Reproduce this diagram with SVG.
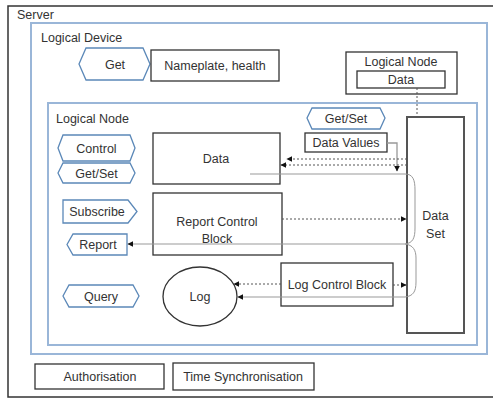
<svg xmlns="http://www.w3.org/2000/svg" width="493" height="400" viewBox="0 0 493 400">
  <style>
    text { font-family: "Liberation Sans", Arial, sans-serif; font-size: 12.5px; fill: #333; }
    .c { text-anchor: middle; }
    .box { fill: #fff; stroke: #333; stroke-width: 1.3; }
    .frame { fill: none; stroke: #9ab6d8; stroke-width: 2; }
    .svc { fill: #fff; stroke: #5b88b8; stroke-width: 1.3; }
    .dash { fill: none; stroke: #555; stroke-width: 1; stroke-dasharray: 2 2; }
    .thin { fill: none; stroke: #999; stroke-width: 1; }
  </style>
  <defs>
    <marker id="ah" viewBox="0 0 10 10" refX="9" refY="5" markerWidth="6" markerHeight="6" orient="auto" markerUnits="userSpaceOnUse">
      <path d="M0,0 L10,5 L0,10 Z" fill="#111"/>
    </marker>
  </defs>

  <rect width="493" height="400" fill="#fff"/>

  <!-- Server container -->
  <g id="server">
    <rect x="8" y="6" width="500" height="391" fill="none" stroke="#333" stroke-width="1.5"/>
    <text x="17" y="19">Server</text>
  </g>

  <!-- Logical Device container -->
  <g id="logical-device">
    <rect class="frame" x="31" y="23" width="456" height="331"/>
    <text x="41" y="42">Logical Device</text>
  </g>

  <g id="ld-get">
    <polygon class="svc" points="79,64 86,48 143,48 150,64 143,80 86,80"/>
    <text class="c" x="115" y="68.5">Get</text>
  </g>
  <g id="nameplate">
    <rect class="box" x="151" y="50" width="128" height="31"/>
    <text class="c" x="215" y="70">Nameplate, health</text>
  </g>

  <g id="ln-small">
    <rect class="box" x="346" y="52" width="111" height="42"/>
    <text class="c" x="401" y="66">Logical Node</text>
    <rect class="box" x="357" y="71" width="88" height="17"/>
    <text class="c" x="401" y="84">Data</text>
  </g>

  <!-- Logical Node container -->
  <g id="logical-node">
    <rect class="frame" x="48" y="103" width="429" height="242"/>
    <text x="56" y="123">Logical Node</text>
  </g>

  <g id="ln-getset-top">
    <polygon class="svc" points="307,118 312,108 380,108 385,118 380,129 312,129"/>
    <text class="c" x="346" y="122.5">Get/Set</text>
  </g>
  <g id="data-values">
    <rect class="box" x="305" y="133" width="82" height="19"/>
    <text class="c" x="346" y="147">Data Values</text>
  </g>

  <g id="control">
    <polygon class="svc" points="58,148 63,135 130,135 135,148 130,161 63,161"/>
    <text class="c" x="96.5" y="152.5">Control</text>
  </g>
  <g id="getset">
    <polygon class="svc" points="58,173 63,163 130,163 135,173 130,183 63,183"/>
    <text class="c" x="96.5" y="177.5">Get/Set</text>
  </g>
  <g id="subscribe">
    <polygon class="svc" points="63,200 128,200 137,211.5 128,223 63,223"/>
    <text class="c" x="97" y="216">Subscribe</text>
  </g>
  <g id="report">
    <polygon class="svc" points="67,244.5 73,234 127,234 127,255 73,255"/>
    <text class="c" x="98" y="249">Report</text>
  </g>
  <g id="query">
    <polygon class="svc" points="63,296 69,285 133,285 139,296 133,307 69,307"/>
    <text class="c" x="101" y="300.5">Query</text>
  </g>

  <g id="data">
    <rect class="box" x="153" y="133" width="127" height="51"/>
    <text class="c" x="216" y="162.5">Data</text>
  </g>
  <g id="report-control-block">
    <rect class="box" x="153" y="193" width="129" height="62"/>
    <text class="c" x="217" y="226">Report Control</text>
    <text class="c" x="217" y="242.5">Block</text>
  </g>
  <g id="log">
    <ellipse cx="200" cy="296.5" rx="37" ry="29.5" fill="#fff" stroke="#333" stroke-width="1.3"/>
    <text class="c" x="200" y="301">Log</text>
  </g>
  <g id="log-control-block">
    <rect class="box" x="281" y="263" width="112" height="43"/>
    <text class="c" x="337" y="289">Log Control Block</text>
  </g>
  <g id="data-set">
    <rect x="407" y="117" width="57" height="216" fill="#fff" stroke="#555" stroke-width="2"/>
    <text class="c" x="435.5" y="220">Data</text>
    <text class="c" x="435.5" y="238">Set</text>
  </g>

  <g id="security">
    <rect class="box" x="35" y="364" width="129" height="25"/>
    <text class="c" x="100" y="381">Authorisation</text>
    <rect class="box" x="173" y="363" width="141" height="27"/>
    <text class="c" x="243" y="381">Time Synchronisation</text>
  </g>

  <!-- Connectors -->
  <g id="connectors">
    <path class="dash" d="M417,88 V117" stroke="#888"/>
    <path d="M387,143 H397 V171" fill="none" stroke="#999" stroke-width="1.3" marker-end="url(#ah)"/>
    <path class="dash" d="M407,159 H287" marker-end="url(#ah)"/>
    <path class="dash" d="M407,165 H281" marker-end="url(#ah)"/>
    <path class="dash" d="M282,219 H406" marker-end="url(#ah)"/>
    <path class="dash" d="M393,285 H406" marker-end="url(#ah)"/>
    <path class="dash" d="M281,284 H234" marker-end="url(#ah)"/>
    <!-- member lines gathered by the data set brace -->
    <path class="thin" d="M250,174 H405 C413,174 415,180 415,190 V228 C415,238 413,243 405,244 C413,245 416,250 416,258 V282 C416,292 413,296 405,297"/>
    <path class="thin" d="M405,244 H128" stroke="#777" marker-end="url(#ah)"/>
    <path class="thin" d="M405,297 H238" stroke="#777" marker-end="url(#ah)"/>
  </g>
</svg>
